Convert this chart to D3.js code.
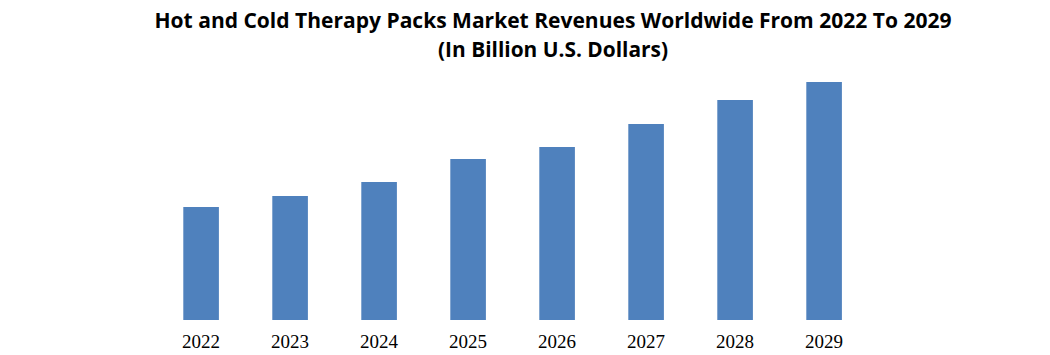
<!DOCTYPE html>
<html><head><meta charset="utf-8">
<script src="https://cdn.jsdelivr.net/npm/d3@7"></script>
<style>body{margin:0;background:#fff;} svg{display:block;}</style>
</head><body>
<svg id="chart" width="1050" height="355"></svg>
<script>
const categories = ["2022","2023","2024","2025","2026","2027","2028","2029"];
const values = [1.13, 1.24, 1.38, 1.61, 1.73, 1.96, 2.20, 2.38];
const titleLines = ["Hot and Cold Therapy Packs Market Revenues Worldwide From 2022 To 2029", "(In Billion U.S. Dollars)"];

const svg = d3.select("#chart");
const x = d3.scaleBand().domain(categories).range([156.6, 868.6]).paddingInner(0.6).paddingOuter(0.3);
const y = d3.scaleLinear().domain([0, 2.4]).range([320, 80]);

svg.selectAll("rect.bar").data(categories).join("rect")
  .attr("class","bar")
  .attr("x", d => x(d))
  .attr("width", x.bandwidth())
  .attr("y", (d,i) => y(values[i]))
  .attr("height", (d,i) => y(0) - y(values[i]))
  .attr("fill", "#4F81BD");

const xAxis = d3.axisBottom(x).tickSize(0).tickPadding(0);
const gx = svg.append("g").attr("transform", "translate(0,334)").call(xAxis);
gx.select(".domain").remove();
gx.selectAll("text").attr("font-family","'Liberation Serif', serif").attr("font-size", 19).attr("fill","#000").attr("dy","0.71em");

const widths = [797, 230];
titleLines.forEach((t, i) => {
  svg.append("text")
    .attr("x", 553).attr("y", i === 0 ? 28 : 57)
    .attr("text-anchor", "middle")
    .attr("font-family", "'Open Sans', sans-serif")
    .attr("font-weight", "bold")
    .attr("font-size", 21)
    .attr("textLength", widths[i])
    .attr("lengthAdjust", "spacingAndGlyphs")
    .attr("fill", "#000")
    .text(t);
});
</script>
</body></html>
